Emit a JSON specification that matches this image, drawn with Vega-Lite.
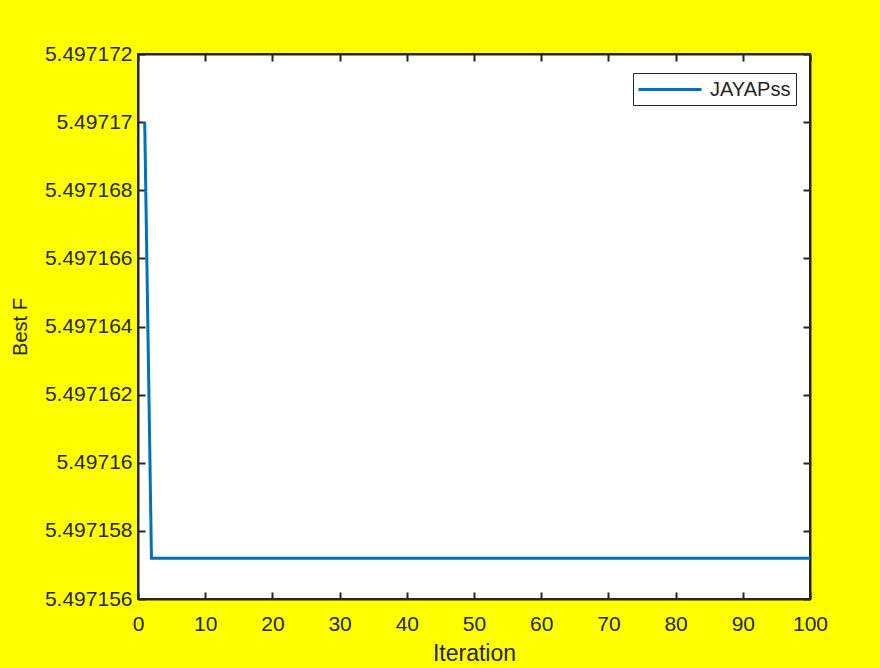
{
  "$schema": "https://vega.github.io/schema/vega-lite/v6.json",
  "width": 672,
  "height": 545,
  "autosize": "none",
  "padding": {"left": 138, "top": 54, "right": 70, "bottom": 69},
  "background": "#ffff00",
  "config": {
    "view": {"fill": "white", "stroke": "#262626", "strokeWidth": 2},
    "axis": {
      "domainColor": "#262626", "domainWidth": 2,
      "tickColor": "#262626", "tickWidth": 2,
      "labelColor": "#262626", "labelFont": "Liberation Sans", "labelFontSize": 21,
      "titleColor": "#262626", "titleFont": "Liberation Sans", "titleFontWeight": "normal",
      "grid": false
    },
    "legend": {
      "labelFont": "Liberation Sans", "labelFontSize": 20, "labelColor": "#262626"
    }
  },
  "data": {"values": [
    {"Iteration": 1, "BestF": 5.49717, "series": "JAYAPss"},
    {"Iteration": 2, "BestF": 5.4971572, "series": "JAYAPss"},
    {"Iteration": 3, "BestF": 5.4971572, "series": "JAYAPss"},
    {"Iteration": 4, "BestF": 5.4971572, "series": "JAYAPss"},
    {"Iteration": 5, "BestF": 5.4971572, "series": "JAYAPss"},
    {"Iteration": 6, "BestF": 5.4971572, "series": "JAYAPss"},
    {"Iteration": 7, "BestF": 5.4971572, "series": "JAYAPss"},
    {"Iteration": 8, "BestF": 5.4971572, "series": "JAYAPss"},
    {"Iteration": 9, "BestF": 5.4971572, "series": "JAYAPss"},
    {"Iteration": 10, "BestF": 5.4971572, "series": "JAYAPss"},
    {"Iteration": 11, "BestF": 5.4971572, "series": "JAYAPss"},
    {"Iteration": 12, "BestF": 5.4971572, "series": "JAYAPss"},
    {"Iteration": 13, "BestF": 5.4971572, "series": "JAYAPss"},
    {"Iteration": 14, "BestF": 5.4971572, "series": "JAYAPss"},
    {"Iteration": 15, "BestF": 5.4971572, "series": "JAYAPss"},
    {"Iteration": 16, "BestF": 5.4971572, "series": "JAYAPss"},
    {"Iteration": 17, "BestF": 5.4971572, "series": "JAYAPss"},
    {"Iteration": 18, "BestF": 5.4971572, "series": "JAYAPss"},
    {"Iteration": 19, "BestF": 5.4971572, "series": "JAYAPss"},
    {"Iteration": 20, "BestF": 5.4971572, "series": "JAYAPss"},
    {"Iteration": 21, "BestF": 5.4971572, "series": "JAYAPss"},
    {"Iteration": 22, "BestF": 5.4971572, "series": "JAYAPss"},
    {"Iteration": 23, "BestF": 5.4971572, "series": "JAYAPss"},
    {"Iteration": 24, "BestF": 5.4971572, "series": "JAYAPss"},
    {"Iteration": 25, "BestF": 5.4971572, "series": "JAYAPss"},
    {"Iteration": 26, "BestF": 5.4971572, "series": "JAYAPss"},
    {"Iteration": 27, "BestF": 5.4971572, "series": "JAYAPss"},
    {"Iteration": 28, "BestF": 5.4971572, "series": "JAYAPss"},
    {"Iteration": 29, "BestF": 5.4971572, "series": "JAYAPss"},
    {"Iteration": 30, "BestF": 5.4971572, "series": "JAYAPss"},
    {"Iteration": 31, "BestF": 5.4971572, "series": "JAYAPss"},
    {"Iteration": 32, "BestF": 5.4971572, "series": "JAYAPss"},
    {"Iteration": 33, "BestF": 5.4971572, "series": "JAYAPss"},
    {"Iteration": 34, "BestF": 5.4971572, "series": "JAYAPss"},
    {"Iteration": 35, "BestF": 5.4971572, "series": "JAYAPss"},
    {"Iteration": 36, "BestF": 5.4971572, "series": "JAYAPss"},
    {"Iteration": 37, "BestF": 5.4971572, "series": "JAYAPss"},
    {"Iteration": 38, "BestF": 5.4971572, "series": "JAYAPss"},
    {"Iteration": 39, "BestF": 5.4971572, "series": "JAYAPss"},
    {"Iteration": 40, "BestF": 5.4971572, "series": "JAYAPss"},
    {"Iteration": 41, "BestF": 5.4971572, "series": "JAYAPss"},
    {"Iteration": 42, "BestF": 5.4971572, "series": "JAYAPss"},
    {"Iteration": 43, "BestF": 5.4971572, "series": "JAYAPss"},
    {"Iteration": 44, "BestF": 5.4971572, "series": "JAYAPss"},
    {"Iteration": 45, "BestF": 5.4971572, "series": "JAYAPss"},
    {"Iteration": 46, "BestF": 5.4971572, "series": "JAYAPss"},
    {"Iteration": 47, "BestF": 5.4971572, "series": "JAYAPss"},
    {"Iteration": 48, "BestF": 5.4971572, "series": "JAYAPss"},
    {"Iteration": 49, "BestF": 5.4971572, "series": "JAYAPss"},
    {"Iteration": 50, "BestF": 5.4971572, "series": "JAYAPss"},
    {"Iteration": 51, "BestF": 5.4971572, "series": "JAYAPss"},
    {"Iteration": 52, "BestF": 5.4971572, "series": "JAYAPss"},
    {"Iteration": 53, "BestF": 5.4971572, "series": "JAYAPss"},
    {"Iteration": 54, "BestF": 5.4971572, "series": "JAYAPss"},
    {"Iteration": 55, "BestF": 5.4971572, "series": "JAYAPss"},
    {"Iteration": 56, "BestF": 5.4971572, "series": "JAYAPss"},
    {"Iteration": 57, "BestF": 5.4971572, "series": "JAYAPss"},
    {"Iteration": 58, "BestF": 5.4971572, "series": "JAYAPss"},
    {"Iteration": 59, "BestF": 5.4971572, "series": "JAYAPss"},
    {"Iteration": 60, "BestF": 5.4971572, "series": "JAYAPss"},
    {"Iteration": 61, "BestF": 5.4971572, "series": "JAYAPss"},
    {"Iteration": 62, "BestF": 5.4971572, "series": "JAYAPss"},
    {"Iteration": 63, "BestF": 5.4971572, "series": "JAYAPss"},
    {"Iteration": 64, "BestF": 5.4971572, "series": "JAYAPss"},
    {"Iteration": 65, "BestF": 5.4971572, "series": "JAYAPss"},
    {"Iteration": 66, "BestF": 5.4971572, "series": "JAYAPss"},
    {"Iteration": 67, "BestF": 5.4971572, "series": "JAYAPss"},
    {"Iteration": 68, "BestF": 5.4971572, "series": "JAYAPss"},
    {"Iteration": 69, "BestF": 5.4971572, "series": "JAYAPss"},
    {"Iteration": 70, "BestF": 5.4971572, "series": "JAYAPss"},
    {"Iteration": 71, "BestF": 5.4971572, "series": "JAYAPss"},
    {"Iteration": 72, "BestF": 5.4971572, "series": "JAYAPss"},
    {"Iteration": 73, "BestF": 5.4971572, "series": "JAYAPss"},
    {"Iteration": 74, "BestF": 5.4971572, "series": "JAYAPss"},
    {"Iteration": 75, "BestF": 5.4971572, "series": "JAYAPss"},
    {"Iteration": 76, "BestF": 5.4971572, "series": "JAYAPss"},
    {"Iteration": 77, "BestF": 5.4971572, "series": "JAYAPss"},
    {"Iteration": 78, "BestF": 5.4971572, "series": "JAYAPss"},
    {"Iteration": 79, "BestF": 5.4971572, "series": "JAYAPss"},
    {"Iteration": 80, "BestF": 5.4971572, "series": "JAYAPss"},
    {"Iteration": 81, "BestF": 5.4971572, "series": "JAYAPss"},
    {"Iteration": 82, "BestF": 5.4971572, "series": "JAYAPss"},
    {"Iteration": 83, "BestF": 5.4971572, "series": "JAYAPss"},
    {"Iteration": 84, "BestF": 5.4971572, "series": "JAYAPss"},
    {"Iteration": 85, "BestF": 5.4971572, "series": "JAYAPss"},
    {"Iteration": 86, "BestF": 5.4971572, "series": "JAYAPss"},
    {"Iteration": 87, "BestF": 5.4971572, "series": "JAYAPss"},
    {"Iteration": 88, "BestF": 5.4971572, "series": "JAYAPss"},
    {"Iteration": 89, "BestF": 5.4971572, "series": "JAYAPss"},
    {"Iteration": 90, "BestF": 5.4971572, "series": "JAYAPss"},
    {"Iteration": 91, "BestF": 5.4971572, "series": "JAYAPss"},
    {"Iteration": 92, "BestF": 5.4971572, "series": "JAYAPss"},
    {"Iteration": 93, "BestF": 5.4971572, "series": "JAYAPss"},
    {"Iteration": 94, "BestF": 5.4971572, "series": "JAYAPss"},
    {"Iteration": 95, "BestF": 5.4971572, "series": "JAYAPss"},
    {"Iteration": 96, "BestF": 5.4971572, "series": "JAYAPss"},
    {"Iteration": 97, "BestF": 5.4971572, "series": "JAYAPss"},
    {"Iteration": 98, "BestF": 5.4971572, "series": "JAYAPss"},
    {"Iteration": 99, "BestF": 5.4971572, "series": "JAYAPss"},
    {"Iteration": 100, "BestF": 5.4971572, "series": "JAYAPss"}
  ]},
  "resolve": {"axis": {"x": "independent", "y": "independent"}},
  "layer": [
    {
      "mark": {"type": "line", "strokeWidth": 3, "clip": true},
      "encoding": {
        "x": {"field": "Iteration", "type": "quantitative",
          "scale": {"domain": [0, 100], "nice": false},
          "axis": {"orient": "bottom", "title": "Iteration", "titleFontSize": 23, "values": [0,10,20,30,40,50,60,70,80,90,100],
            "tickSize": -7, "labelPadding": 21, "titlePadding": 8, "labelFlush": false}},
        "y": {"field": "BestF", "type": "quantitative",
          "scale": {"domain": [5.497156, 5.497172], "nice": false, "zero": false},
          "axis": {"orient": "left", "title": "Best F", "titleFontSize": 20,
            "values": [5.497156, 5.497158, 5.49716, 5.497162, 5.497164, 5.497166, 5.497168, 5.49717, 5.497172],
            "labelExpr": "format(datum.value, '.7~g')",
            "tickSize": -7, "labelPadding": 13, "titlePadding": 14, "labelFlush": false}},
        "color": {"field": "series", "type": "nominal",
          "scale": {"range": ["#0072BD"]},
          "legend": {"title": null, "orient": "none", "legendX": 495, "legendY": 19,
            "symbolType": "M-1.1,0H5.2", "symbolSize": 400, "symbolStrokeWidth": 3,
            "fillColor": "white", "strokeColor": "#262626", "padding": 5, "labelOffset": 49}}
      }
    },
    {
      "mark": {"type": "line", "opacity": 0},
      "encoding": {
        "x": {"field": "Iteration", "type": "quantitative",
          "axis": {"orient": "top", "title": null, "labels": false, "values": [0,10,20,30,40,50,60,70,80,90,100], "tickSize": -7}},
        "y": {"field": "BestF", "type": "quantitative",
          "axis": {"orient": "right", "title": null, "labels": false,
            "values": [5.497156, 5.497158, 5.49716, 5.497162, 5.497164, 5.497166, 5.497168, 5.49717, 5.497172], "tickSize": -7}}
      }
    }
  ]
}
